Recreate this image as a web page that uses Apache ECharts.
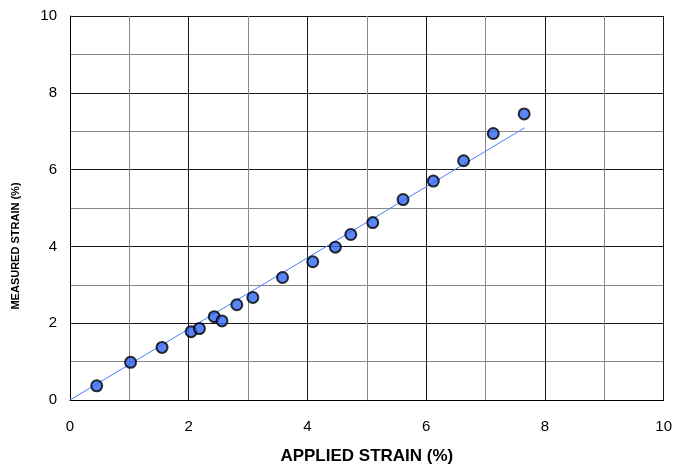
<!DOCTYPE html>
<html>
<head>
<meta charset="utf-8">
<script src="https://cdn.jsdelivr.net/npm/echarts@6/dist/echarts.min.js"></script>
<style>
  html, body { margin: 0; padding: 0; background: #fff; }
  #chart { width: 675px; height: 470px; }
</style>
</head>
<body>
<div id="chart"></div>
<script>
// applied vs measured strain (%)
const applied = [0.45, 1.02, 1.55, 2.04, 2.18, 2.43, 2.56, 2.81, 3.08, 3.58, 4.09, 4.47, 4.73, 5.10, 5.61, 6.12, 6.63, 7.13, 7.65];
const measured = [0.37, 0.98, 1.37, 1.78, 1.86, 2.17, 2.06, 2.48, 2.67, 3.19, 3.60, 3.98, 4.31, 4.62, 5.22, 5.70, 6.23, 6.94, 7.45];
const fitLine = [[0, 0], [7.66, 7.09]];

const xTitle = 'APPLIED STRAIN (%)';
const yTitle = 'MEASURED STRAIN (%)';

const chart = echarts.init(document.getElementById('chart'));

const axisCommon = {
  type: 'value',
  min: 0,
  max: 10,
  interval: 2,
  axisLine: { show: true, lineStyle: { color: '#000', width: 1 } },
  axisTick: { show: false },
  axisLabel: { color: '#000', fontSize: 15, fontFamily: 'Liberation Sans, Arial' },
  splitLine: { show: true, lineStyle: { color: '#1a1a1a', width: 1 } },
  minorTick: { show: false, splitNumber: 2 },
  minorSplitLine: { show: true, lineStyle: { color: '#888', width: 1 } }
};

chart.setOption({
  animation: false,
  grid: { left: 70, right: 9, top: 16, bottom: 69 },
  xAxis: {
    ...axisCommon,
    axisLabel: { ...axisCommon.axisLabel, margin: 19 },
    name: xTitle,
    nameLocation: 'middle',
    nameGap: 48,
    nameTextStyle: { color: '#000', fontSize: 17, fontWeight: 'bold', fontFamily: 'Liberation Sans, Arial' }
  },
  yAxis: {
    ...axisCommon,
    axisLabel: { ...axisCommon.axisLabel, margin: 13 }
  },
  graphic: [{
    type: 'text',
    x: 16,
    y: 246,
    rotation: Math.PI / 2,
    style: {
      text: yTitle,
      fill: '#000',
      font: 'bold 11px "Liberation Sans", Arial',
      align: 'center',
      verticalAlign: 'middle'
    }
  }],
  series: [
    {
      type: 'line',
      data: fitLine,
      symbol: 'none',
      lineStyle: { color: '#4a7dff', width: 1 },
      z: 2
    },
    {
      type: 'scatter',
      data: applied.map((x, i) => [x, measured[i]]),
      symbol: 'circle',
      symbolSize: 11,
      itemStyle: { color: '#2f66f2', borderColor: '#000', borderWidth: 2 },
      z: 3
    }
  ]
});
</script>
</body>
</html>
